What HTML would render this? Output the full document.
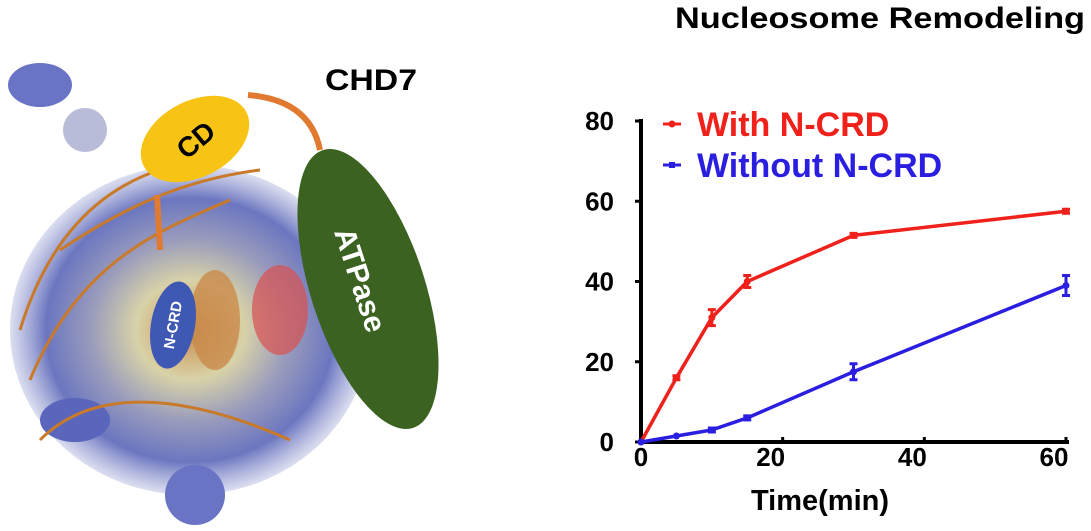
<!DOCTYPE html>
<html><head><meta charset="utf-8"><style>
body{margin:0;background:#fff;width:1091px;height:531px;overflow:hidden;font-family:"Liberation Sans",Arial,sans-serif}
svg{display:block}
</style></head><body>
<svg width="1091" height="531" viewBox="0 0 1091 531">
<defs>
<radialGradient id="blob" cx="50%" cy="50%" r="50%">
<stop offset="0" stop-color="#c98a4a"/><stop offset="0.3" stop-color="#d8d2a8"/><stop offset="0.55" stop-color="#9a9cbc"/><stop offset="0.8" stop-color="#6b76c0"/><stop offset="1" stop-color="#8a92cc" stop-opacity="0.3"/>
</radialGradient>
</defs>
<g>
<ellipse cx="190" cy="330" rx="180" ry="165" fill="url(#blob)"/>
<ellipse cx="40" cy="85" rx="32" ry="22" fill="#6a74c4"/>
<ellipse cx="85" cy="130" rx="22" ry="22" fill="#b8bcd8"/>
<ellipse cx="75" cy="420" rx="35" ry="22" fill="#5a66bc"/>
<ellipse cx="195" cy="495" rx="30" ry="30" fill="#6a74c4"/>
<ellipse cx="280" cy="310" rx="28" ry="45" fill="#d85050" opacity="0.7"/>
<ellipse cx="215" cy="320" rx="25" ry="50" fill="#c98a4a" opacity="0.8"/>
<path d="M20,330 C60,200 140,170 200,160 M30,380 C80,260 160,230 230,200 M40,440 C100,380 200,400 290,440 M60,250 C120,210 180,180 260,170" stroke="#c87a2a" stroke-width="3" fill="none"/>
<path d="M248,95 Q310,100 320,150" stroke="#e07a30" stroke-width="6" fill="none"/>
<path d="M157,195 L160,250" stroke="#e07a30" stroke-width="6" fill="none"/>
</g>
<g>
<ellipse cx="195" cy="139" rx="58" ry="38" transform="rotate(-28 195 139)" fill="#f7c415"/>
<text x="195" y="150" transform="rotate(-40 195 139)" text-anchor="middle" font-size="28" font-weight="bold" fill="#000">CD</text>
</g>
<g>
<ellipse cx="368" cy="289" rx="57" ry="146" transform="rotate(-18 368 289)" fill="#3b6221"/>
<text x="360" y="290" transform="rotate(72 360 280)" text-anchor="middle" font-size="30" font-weight="bold" fill="#fff">ATPase</text>
</g>
<g>
<ellipse cx="173" cy="325" rx="22" ry="44" transform="rotate(10 173 325)" fill="#3f58b4"/>
<text x="173" y="330" transform="rotate(-80 173 325)" text-anchor="middle" font-size="15" font-weight="bold" fill="#fff">N-CRD</text>
</g>
<text x="325" y="90" font-size="30" font-weight="bold" textLength="92" lengthAdjust="spacingAndGlyphs">CHD7</text>

<text x="675" y="28" font-size="30" font-weight="bold" textLength="410" lengthAdjust="spacingAndGlyphs">Nucleosome Remodeling</text>
<g id="chart"></g>
</svg>
<script>
const times = [0, 5, 10, 15, 30, 60];
const withNCRD = [0, 16, 31, 40, 51.5, 57.5];
const withErr = [0, 0.5, 2, 1.5, 0.5, 0.5];
const withoutNCRD = [0, 1.5, 3, 6, 17.5, 39];
const withoutErr = [0, 0.3, 0.5, 0.5, 2, 2.5];
const yTicks = [0, 20, 40, 60, 80];
const xTicks = [0, 20, 40, 60];

const NS = "http://www.w3.org/2000/svg";
const g = document.getElementById('chart');
const X0 = 641, X1 = 1066, Y0 = 442, Y1 = 121;
const xs = v => X0 + (v / 60) * (X1 - X0);
const ys = v => Y0 - (v / 80) * (Y0 - Y1);
function mk(tag, a) { const e = document.createElementNS(NS, tag); for (const k in a) e.setAttribute(k, a[k]); g.appendChild(e); return e; }

let e = mk('line', {x1: X0, y1: Y1 - 2, x2: X0, y2: Y0 + 2, stroke: '#000', 'stroke-width': 4});


e = mk('line', {x1: X0 - 2, y1: Y0, x2: X1 + 3, y2: Y0, stroke: '#000', 'stroke-width': 4});



yTicks.forEach(t => {
  const tk = mk('line', {x1: X0 - 6, y1: ys(t), x2: X0, y2: ys(t), stroke: '#000', 'stroke-width': 3});
  
  
  const tx = mk('text', {x: 614, y: ys(t) + 9, 'text-anchor': 'end', 'font-size': 26, 'font-weight': 'bold'});
  tx.textContent = t;
  
  
});
xTicks.forEach(t => {
  const tk = mk('line', {x1: xs(t), y1: Y0 - 5, x2: xs(t), y2: Y0, stroke: '#000', 'stroke-width': 3});
  
  
  const tx = mk('text', {x: xs(t) - (t ? 12 : 0), y: Y0 + 24, 'text-anchor': 'middle', 'font-size': 26, 'font-weight': 'bold'});
  tx.textContent = t;
  
  
});
e = mk('text', {x: 820, y: 510, 'text-anchor': 'middle', 'font-size': 29, 'font-weight': 'bold'});
e.textContent = 'Time(min)';



function series(vals, errs, color, name) {
  const p = mk('polyline', {points: times.map((t, i) => xs(t) + ',' + ys(vals[i])).join(' '), fill: 'none', stroke: color, 'stroke-width': 3.5});
  
  
  times.forEach((t, i) => {
    const c = mk('circle', {cx: xs(t), cy: ys(vals[i]), r: 3.5, fill: color});
    
    
    if (errs[i] > 0.4) {
      const eb = mk('path', {d: `M${xs(t)},${ys(vals[i]-errs[i])}V${ys(vals[i]+errs[i])}M${xs(t)-4},${ys(vals[i]-errs[i])}h8M${xs(t)-4},${ys(vals[i]+errs[i])}h8`, stroke: color, 'stroke-width': 3, fill: 'none'});
      
      
    }
  });
}
series(withNCRD, withErr, '#f0201a', 'with-n-crd');
series(withoutNCRD, withoutErr, '#2a1ee0', 'without-n-crd');

function legend(y, color, label, name, sq) {
  const l = mk('line', {x1: 663, y1: y, x2: 681, y2: y, stroke: color, 'stroke-width': 3});
  
  
  const m = sq ? mk('rect', {x: 669, y: y - 3, width: 6, height: 6, fill: color}) : mk('circle', {cx: 672, cy: y, r: 3.5, fill: color});
  
  
  const t = mk('text', {x: 697, y: y + 12, 'font-size': 34, 'font-weight': 'bold', fill: color});
  t.textContent = label;
  
  
}
legend(124, '#f0201a', 'With N-CRD', 'with-n-crd', false);
legend(165, '#2a1ee0', 'Without N-CRD', 'without-n-crd', true);
</script>
</body></html>
